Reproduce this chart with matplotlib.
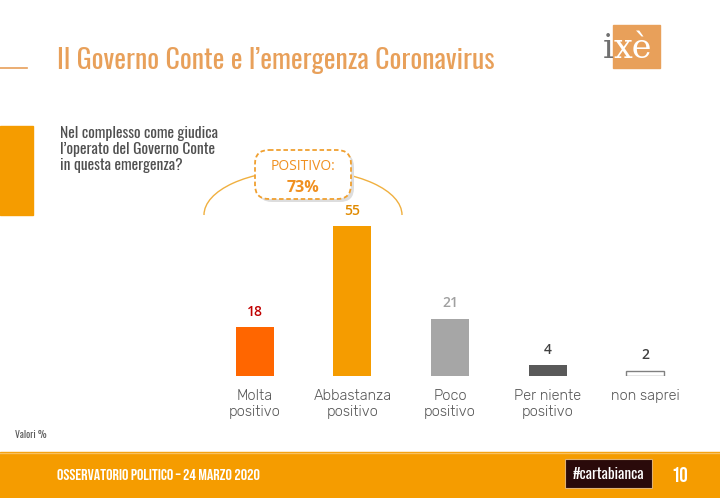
import numpy as np
import matplotlib
matplotlib.use("Agg")
import matplotlib.pyplot as plt
from matplotlib import font_manager
from matplotlib.patches import Rectangle, FancyBboxPatch, Arc

# data
categories = ["Molta\npositivo", "Abbastanza\npositivo", "Poco\npositivo",
              "Per niente\npositivo", "non saprei"]
values = [18, 55, 21, 4, 2]
bar_colors = ["#FF6600", "#F59C00", "#A6A6A6", "#595959", "#FFFFFF"]
label_colors = ["#C00000", "#E08A00", "#A0A0A0", "#404040", "#404040"]
positive_total = 73

ORANGE = "#F59C00"
TITLE_C = "#E8A05A"
GRAY = "#595959"

names = {f.name for f in font_manager.fontManager.ttflist}


def pick(*cands):
    for c in cands:
        if c in names:
            return c
    return "DejaVu Sans"


narrow = pick("Oswald", "Barlow Condensed", "Asap Condensed", "Archivo Narrow")
body = pick("Rubik", "Open Sans", "Noto Sans")
footer_font = pick("Bebas Neue", "Oswald", "Barlow Condensed")
box_font = pick("Open Sans", "Noto Sans")

fig = plt.figure(figsize=(7.2, 4.98), dpi=100)

# background layer in pixel coords
bg = fig.add_axes([0, 0, 1, 1])
bg.set_xlim(0, 720)
bg.set_ylim(498, 0)
bg.set_axis_off()

# title
bg.plot([0, 27], [68, 68], color=TITLE_C, lw=1.2)
bg.text(57, 60, "Il Governo Conte e l\u2019emergenza Coronavirus", color=TITLE_C,
        fontsize=20, family=narrow, fontweight="light", va="center", ha="left")

# logo
bg.add_patch(Rectangle((613, 25), 47, 43, color="#E8A05A", zorder=2))
bg.text(603, 49, "i", family="DejaVu Serif", fontsize=24, color="#707070",
        va="center", ha="left", zorder=3)
bg.text(614, 49, "x\u00e8", family="DejaVu Serif", fontsize=24, color="white",
        va="center", ha="left", zorder=3)

# left block and question
bg.add_patch(Rectangle((0, 126), 33, 89, color=ORANGE))
bg.text(60, 126, "Nel complesso come giudica\nl\u2019operato del Governo Conte\nin questa emergenza?",
        color="#505050", fontsize=11.2, family=narrow, fontweight="light", va="top", ha="left",
        linespacing=1.1)

# positive bracket
bg.add_patch(Arc((303, 215), 198, 90, theta1=180, theta2=360, color="#F0B040", lw=1))
bg.add_patch(FancyBboxPatch((258, 153), 96, 49, boxstyle="round,pad=0,rounding_size=14",
                            facecolor="#DDDDDD", edgecolor="none", zorder=3))
bg.add_patch(FancyBboxPatch((255, 150), 96, 49, boxstyle="round,pad=0,rounding_size=14",
                            facecolor="white", edgecolor="#F0A030", lw=1.3,
                            linestyle=(0, (2.5, 1.5)), zorder=4))
bg.text(303, 166, "POSITIVO:", color="#F09020", fontsize=10, family=box_font,
        ha="center", va="center", zorder=5)
bg.text(303, 188, f"{positive_total}%", color="#F09020", fontsize=11.5, family=box_font,
        fontweight="bold", ha="center", va="center", zorder=5)

bg.text(15, 435, "Valori %", color=GRAY, fontsize=7, family=narrow, va="center")

# footer
bg.add_patch(Rectangle((0, 452), 720, 46, color=ORANGE))
bg.plot([0, 720], [452.5, 452.5], color="#F8C060", lw=1)
bg.text(57, 474, "OSSERVATORIO POLITICO \u2013 24 MARZO 2020", color="white",
        fontsize=11.5, family=footer_font, va="center", ha="left")
bg.add_patch(Rectangle((565, 459), 87, 29, facecolor="#2A0A0A", edgecolor="#E0B070", lw=0.8))
bg.text(608.5, 474, "#cartabianca", color="white", fontsize=11, family=narrow,
        fontweight="bold", va="center", ha="center")
bg.text(680, 474, "10", color="white", fontsize=15, family=footer_font, va="center", ha="center")

# bar chart
ax = fig.add_axes([206 / 720, 122 / 498, 488 / 720, 163.6 / 498])
ax.set_xlim(-0.5, 4.5)
ax.set_ylim(0, 60)
ax.set_axis_off()
x = np.arange(len(values))
ax.bar(x, values, width=0.39, color=bar_colors, edgecolor=["none"] * 4 + ["#808080"],
       linewidth=1)
for xi, v, c in zip(x, values, label_colors):
    ax.annotate(str(v), (xi, v), xytext=(0, 6), textcoords="offset points",
                ha="center", va="bottom", color=c, fontsize=10, family=box_font,
                fontweight="semibold")
for xi, cat in zip(x, categories):
    ax.annotate(cat, (xi, 0), xytext=(0, -9), textcoords="offset points",
                ha="center", va="top", color=GRAY, fontsize=10.5, family=body,
                linespacing=1.2)

fig.savefig("out.png", dpi=100)
